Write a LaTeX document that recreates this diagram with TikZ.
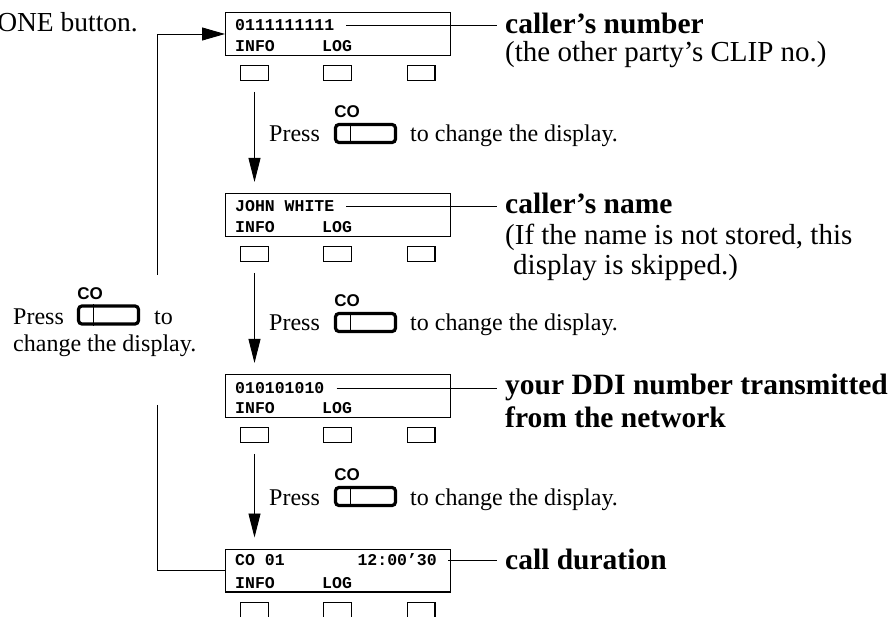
\documentclass[tikz,border=0pt]{standalone}
\usepackage{fontspec}
\setmainfont{Liberation Serif}
\setsansfont{Liberation Sans}
\setmonofont{Liberation Mono}
\usetikzlibrary{arrows.meta}

\begin{document}
\begin{tikzpicture}[
  x=1pt, y=-1pt,
  disp/.style={
    draw, line width=1.4pt, minimum width=224.6, minimum height=42.6,
    inner sep=0pt
  },
  lcd/.style={
    font=\ttfamily\bfseries\fontsize{16.5}{18}\selectfont,
    inner sep=0pt, anchor=west
  },
  softkey/.style={
    draw, line width=1.3pt, minimum width=27.7, minimum height=14.7,
    inner sep=0pt
  },
  cokey/.style={
    draw, line width=3.2pt, rounded corners=3.5pt,
    minimum width=60, minimum height=18, inner sep=0pt
  },
  colbl/.style={font=\sffamily\bfseries\fontsize{17}{17}\selectfont, inner sep=0pt},
  txt/.style={font=\fontsize{24}{28}\selectfont, inner sep=0pt, anchor=base west},
  hdr/.style={font=\bfseries\fontsize{29.5}{32}\selectfont, inner sep=0pt, anchor=base west},
  note/.style={font=\fontsize{29}{30}\selectfont, inner sep=0pt, anchor=base west},
  lead/.style={line width=0.9pt, shorten <=12pt, shorten >=8pt},
  wire/.style={line width=0.9pt},
  arr/.style={-{Triangle[length=24pt, width=12pt]}, line width=0.9pt},
]
\useasboundingbox (0,0) rectangle (892,617);
\clip (0,0) rectangle (892,617);

%% ---- Displays ----
\node[disp] (disp1) at (338,34)    {};
\node[disp] (disp2) at (338,215)   {};
\node[disp] (disp3) at (338,396)   {};
\node[disp] (disp4) at (338,570.5) {};

\node[lcd] (t1) at (235,25)  {0111111111};
\node[lcd] (t2) at (235,206) {JOHN WHITE};
\node[lcd] (t3) at (235,388) {010101010};
\node[lcd] (t4) at (235,560) {CO 01};
\node[lcd, anchor=east] (t4r) at (437,560) {12:00’30};

\foreach \n/\y in {1/12, 2/193, 3/374, 4/549}{
  \node[lcd] (info\n) at (235,\y+34) {INFO};
  \node[lcd] (log\n)  at (322,\y+34) {LOG};
  \node[softkey] (sk\n-1) at (254.5,\y+61) {};
  \node[softkey] (sk\n-2) at (337.5,\y+61) {};
  \node[softkey] (sk\n-3) at (421,\y+61)   {};
}

%% ---- Step arrows ----
\foreach \a/\b in {1/2, 2/3, 3/4}{
  \draw[arr, shorten <=11pt, shorten >=11pt] (sk\a-1.south) -- (sk\a-1.south |- disp\b.north);
}

%% ---- Press CO to change the display ----
\foreach \g/\b in {1/142, 2/331, 3/505}{
  \node[txt] (press\g) at (269,\b) {Press};
  \node[cokey] (key\g) at (365.5,\b-8.5) {};
  \draw[wire] ([xshift=17pt]key\g.north west) -- ([xshift=17pt]key\g.south west);
  \node[colbl] (co\g) at (347,\b-30) {CO};
  \node[txt] (chg\g) at (410,\b) {to change the display.};
}

%% ---- Labels on the right ----
\node[hdr]  (num)   at (505,34)  {caller’s number};
\node[note] (clip)  at (505,62)  {(the other party’s CLIP no.)};
\node[hdr]  (name)  at (505,214) {caller’s name};
\node[note] (skip1) at (505,245) {(If the name is not stored, this};
\node[note] (skip2) at (513,275) {display is skipped.)};
\node[hdr]  (ddi1)  at (505,395) {your DDI number transmitted};
\node[hdr]  (ddi2)  at (505,428) {from the network};
\node[hdr]  (dur)   at (505,569) {call duration};

\draw[lead] (t1.east)  -- (t1.east -| num.west);
\draw[lead] (t2.east)  -- (t2.east -| name.west);
\draw[lead] (t3.east)  -- (t3.east -| ddi1.west);
\draw[lead, shorten <=11pt] (t4r.east) -- (t4r.east -| dur.west);

%% ---- Return path on the left ----
\node[note, anchor=base east, font=\fontsize{27.5}{30}\selectfont] (onebtn) at (138,32) {ONE button.};

\node[txt] (pressL) at (13,325) {Press};
\node[cokey] (keyL) at (108.5,315) {};
\draw[wire] ([xshift=17pt]keyL.north west) -- ([xshift=17pt]keyL.south west);
\node[colbl] (coL) at (90,294) {CO};
\node[txt] (toL) at (154,325) {to};
\node[txt] (chgL) at (13,352) {change the display.};

\coordinate (lup) at (157,275);
\coordinate (ldn) at (157,405);
\draw[arr, -{Triangle[length=23pt, width=13pt]}] (lup) |- (disp1.west);
\draw[wire] (ldn) |- (disp4.west);

\end{tikzpicture}
\end{document}
